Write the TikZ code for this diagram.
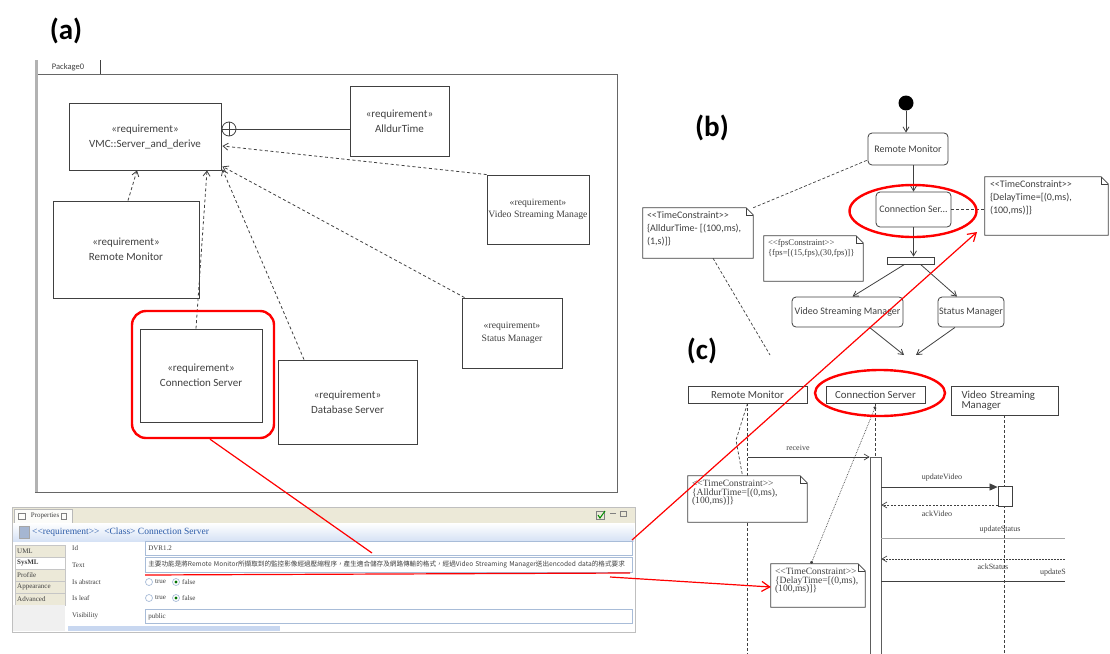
\documentclass[tikz,border=0pt]{standalone}
\usepackage{fontspec}
\setmainfont{Carlito}
\newfontfamily\tnr{Liberation Serif}
\newfontfamily\cjk{Noto Sans CJK TC}
\usetikzlibrary{arrows.meta,shapes.geometric,calc}
\definecolor{ln}{HTML}{404040}
\definecolor{tabbg}{HTML}{ECE9D8}
\definecolor{fieldln}{HTML}{A8BCD8}
\definecolor{titleblue}{HTML}{2B5BA8}
\definecolor{scrollblue}{RGB}{200,215,240}
\definecolor{titlegrad}{RGB}{214,226,245}
\definecolor{iconblue}{RGB}{165,182,210}
\newcommand\umlnote[2][7pt]{%
  \draw[ln, line width=0.7pt, fill=white] (#2.north west) -- ([xshift=-#1]#2.north east) -- ([yshift=-#1]#2.north east) -- (#2.south east) -- (#2.south west) -- cycle;
  \draw[ln, line width=0.6pt] ([xshift=-#1]#2.north east) -- ([xshift=-#1,yshift=-#1]#2.north east) -- ([yshift=-#1]#2.north east);}
\begin{document}
\begin{tikzpicture}[x=1pt,y=-1pt,
  every node/.style={inner sep=0pt},
  reqbox/.style={draw=ln, line width=0.9pt, fill=white, align=center, text=ln, font=\fontsize{11}{15}\selectfont},
  reqser/.style={reqbox, font=\tnr\fontsize{9.7}{12.5}\selectfont},
  deriv/.style={draw=ln, dash pattern=on 3pt off 2.5pt, line width=0.8pt, -{Straight Barb[length=5pt,width=7pt]}},
  redbox/.style={draw=red, line width=2.4pt, rounded corners=14pt},
  redring/.style={draw=red, ellipse, line width=2.4pt},
  redarr/.style={draw=red, line width=1.2pt},
  actbox/.style={draw=ln, line width=0.8pt, rounded corners=4pt, fill=white, font=\fontsize{10}{11}\selectfont, text=ln},
  flow/.style={draw=ln, line width=0.8pt, -{Straight Barb[length=5pt,width=6pt]}},
  notebox/.style={fill=white},
  notesans/.style={align=left, text=ln, font=\fontsize{10}{13}\selectfont},
  noteser/.style={align=left, text=ln, font=\tnr\fontsize{9.6}{8.8}\selectfont},
  head/.style={draw=ln, line width=0.7pt, fill=white, text=ln, font=\fontsize{10.8}{11}\selectfont},
  life/.style={draw=ln, dash pattern=on 3pt off 2pt, line width=0.7pt},
  msg/.style={draw=ln, line width=0.7pt},
  msglab/.style={text=ln, font=\tnr\fontsize{8}{9}\selectfont},
  field/.style={draw=fieldln, line width=0.7pt, fill=white, text=ln, align=left, inner xsep=3pt},
  plabel/.style={text=ln, font=\tnr\fontsize{7}{8}\selectfont},
  ptab/.style={draw=gray!45, fill=tabbg, minimum width=50pt, minimum height=12pt, text width=46pt, align=left, inner xsep=2pt, text=ln, font=\tnr\fontsize{7}{8}\selectfont},
  lab/.style={font=\bfseries\fontsize{29}{29}\selectfont}
]
\useasboundingbox (0,0) rectangle (1110,653);

% ---------- labels
\node[lab] (labA) at (66,31) {(a)};
\node[lab] (labB) at (712,128) {(b)};
\node[lab] (labC) at (702,351) {(c)};

% ---------- (a) package
\draw[ln!80, line width=0.8pt] (35,74) -- (617,74) -- (617,492) -- (35,492);
\draw[gray!60, line width=2.5pt] (36.5,60) -- (36.5,492);
\draw[ln, line width=0.8pt] (100,60) -- (100,74);
\node[text=ln, font=\fontsize{8.5}{9}\selectfont] (pk) at (68,67) {Package0};

\node[reqbox, minimum width=152pt, minimum height=67pt] (VMC) at (145,136.5) {«requirement»\\VMC::Server\_and\_derive};
\node[reqbox, minimum width=99pt, minimum height=70pt] (Alldur) at (399.5,121) {«requirement»\\AlldurTime};
\node[reqser, minimum width=102pt, minimum height=69pt] (VSMa) at (538,209.5) {«requirement»\\Video Streaming Manage};
\node[reqbox, minimum width=146pt, minimum height=97pt] (RMa) at (126,249.5) {«requirement»\\Remote Monitor};
\node[reqbox, minimum width=122pt, minimum height=93pt] (CSa) at (201,375.5) {«requirement»\\Connection Server};
\node[reqbox, minimum width=139pt, minimum height=84pt] (DBa) at (347.5,402) {«requirement»\\Database Server};
\node[reqser, minimum width=100pt, minimum height=70pt] (SMa) at (512,333) {«requirement»\\Status Manager};

\node[circle, draw=ln, line width=0.8pt, fill=white, minimum size=14pt] (cp) at (229,129) {};
\draw[ln, line width=0.8pt] (cp.north) -- (cp.south) (cp.west) -- (cp.east);
\draw[ln, line width=0.8pt] (cp.east) -- (cp.east -| Alldur.west);

\draw[deriv] ([xshift=2pt]RMa.north) -- ([xshift=-8pt]VMC.south);
\draw[deriv] ([xshift=-5pt]CSa.north) -- ([xshift=62pt]VMC.south);
\draw[deriv] ([xshift=-43.5pt]DBa.north) -- ([xshift=1pt,yshift=1pt]VMC.south east);
\draw[deriv] ([xshift=3pt]SMa.north west) -- ([xshift=1pt,yshift=4pt]VMC.south east);
\draw[deriv] (VSMa.north west) -- ([xshift=1pt,yshift=-9.5pt]VMC.east);

% ---------- properties panel
\fill[tabbg] (12,507) rectangle (635,523);
\draw[gray!50, line width=0.6pt] (12,507) rectangle (635,632);
\node[draw=gray!55, fill=white!85!tabbg, minimum width=58pt, minimum height=14pt, anchor=north west, text=ln, font=\tnr\fontsize{7}{8}\selectfont] (ptabh) at (14,509) {\hspace*{9pt}Properties\ \ \ \ };
\draw[gray, line width=0.5pt] (18,513) rectangle (25,519);
\draw[gray, line width=0.5pt] (61,513) rectangle (66,519);
\draw[gray, line width=0.5pt] (596,511) rectangle (604,519);
\draw[green!55!black, line width=1pt] (598,515) -- (600,518) -- (605,511);
\draw[gray, line width=0.8pt] (610,513) -- (616,513);
\draw[gray, line width=0.6pt] (620,511) rectangle (626,516);
\shade[top color=white, bottom color=titlegrad] (13,523) rectangle (634,541);
\draw[gray!70, fill=iconblue] (19,526) rectangle (29,538);
\node[anchor=west, text=titleblue, font=\tnr\fontsize{9.5}{10}\selectfont] (ptitle) at (32,532) {<\kern0pt<requirement>\kern0pt> \ <Class> Connection Server};
\fill[white] (65,542) rectangle (633,626);
\node[ptab, anchor=north west] (tUML) at (15,545) {UML};
\node[ptab, anchor=north west, fill=white, font=\tnr\bfseries\fontsize{7}{8}\selectfont] (tSys) at (15,557) {SysML};
\node[ptab, anchor=north west] (tPro) at (15,569) {Profile};
\node[ptab, anchor=north west] (tApp) at (15,581) {Appearance};
\node[ptab, anchor=north west] (tAdv) at (15,593) {Advanced};
\fill[gray!12] (13,605) rectangle (65,631);
\fill[scrollblue] (68,626) rectangle (280,631);

\node[plabel, anchor=west] (lId) at (72,548) {Id};
\node[plabel, anchor=west] (lText) at (72,565) {Text};
\node[plabel, anchor=west] (lAbs) at (72,582) {Is abstract};
\node[plabel, anchor=west] (lLeaf) at (72,598) {Is leaf};
\node[plabel, anchor=west] (lVis) at (72,616) {Visibility};

\node[field, text width=481pt, minimum height=14pt, anchor=north west, font=\tnr\fontsize{7}{8}\selectfont] (fId) at (145,541) {DVR1.2};
\node[field, text width=481pt, minimum height=15pt, anchor=north west, font=\cjk\fontsize{6.6}{7}\selectfont] (fText) at (145,557) {主要功能是將Remote Monitor所擷取到的監控影像經過壓縮程序，產生適合儲存及網路傳輸的格式，經過Video Streaming Manager送出encoded data的格式要求};
\node[field, text width=481pt, minimum height=14pt, anchor=north west, font=\tnr\fontsize{7}{8}\selectfont] (fVis) at (145,609) {public};

\node[circle, draw=fieldln, line width=0.7pt, minimum size=7pt] (ra1) at (149,582) {};
\node[plabel, anchor=west] (ra1t) at (155,582) {true};
\node[circle, draw=fieldln, line width=0.7pt, minimum size=7pt] (ra2) at (176,582) {};
\fill[green!45!black] (ra2) circle (1.6pt);
\node[plabel, anchor=west] (ra2t) at (182,582) {false};
\node[circle, draw=fieldln, line width=0.7pt, minimum size=7pt] (rb1) at (149,598) {};
\node[plabel, anchor=west] (rb1t) at (155,598) {true};
\node[circle, draw=fieldln, line width=0.7pt, minimum size=7pt] (rb2) at (176,598) {};
\fill[green!45!black] (rb2) circle (1.6pt);
\node[plabel, anchor=west] (rb2t) at (182,598) {false};

% ---------- (b) activity
\node[circle, fill=black, minimum size=15pt] (init) at (906,103) {};
\node[actbox, minimum width=80pt, minimum height=32pt] (RMb) at (908,149) {Remote Monitor};
\node[actbox, minimum width=75pt, minimum height=35pt] (CSb) at (913.5,209.5) {Connection Ser...};
\node[draw=ln, line width=0.8pt, fill=white, minimum width=47pt, minimum height=7pt] (fork) at (910.5,260.5) {};
\node[actbox, minimum width=111pt, minimum height=30pt] (VSMb) at (847.5,312) {Video Streaming Manager};
\node[actbox, minimum width=66pt, minimum height=30pt] (SMb) at (971,312) {Status Manager};

\draw[flow] (init.south) -- (init.south |- RMb.north);
\draw[flow] (CSb.north |- RMb.south) -- (CSb.north);
\draw[flow] (CSb.south) -- (CSb.south |- fork.north);
\draw[flow] ([xshift=-6pt]fork.south) -- ([xshift=5pt]VSMb.north);
\draw[flow] ([xshift=10pt]fork.south) -- ([xshift=-14pt]SMb.north);
\coordinate (j1) at (904,355);
\coordinate (j2) at (916,355);
\draw[flow] ([xshift=22pt]VSMb.south) -- (j1);
\draw[flow] ([xshift=-16pt]SMb.south) -- (j2);

\node[notebox, minimum width=123pt, minimum height=58pt] (TCb1) at (1046.5,206) {};
\umlnote{TCb1}
\node[notesans, anchor=north west] (TCb1t) at ([shift={(5pt,-4pt)}]TCb1.north west) {<\kern0pt<TimeConstraint>\kern0pt>\\\{DelayTime=[(0,ms),\\(100,ms)]\}};
\node[notebox, minimum width=110pt, minimum height=50pt] (TCb2) at (698,233) {};
\umlnote{TCb2}
\node[notesans, anchor=north west] (TCb2t) at ([shift={(4pt,-4pt)}]TCb2.north west) {<\kern0pt<TimeConstraint>\kern0pt>\\\{AlldurTime- [(100,ms),\\(1,s)]\}};
\node[notebox, minimum width=99pt, minimum height=45pt] (fps) at (813.5,258.5) {};
\umlnote{fps}
\node[noteser, anchor=north west, font=\tnr\fontsize{8.7}{10}\selectfont] (fpst) at ([shift={(4pt,-3pt)}]fps.north west) {<\kern0pt<fpsConstraint>\kern0pt>\\\{fps=[(15,fps),(30,fps)]\}};

\draw[life] (CSb.east) -- (CSb.east -| TCb1.west);
\draw[life] (TCb2.north east) -- ([yshift=-11pt]RMb.west);
\coordinate (tcb2end) at (770,355);
\draw[life] ([xshift=15pt]TCb2.south) -- (tcb2end);

% ---------- (c) sequence
\coordinate (bot) at (0,656);
\node[head, minimum width=119pt, minimum height=17pt] (RMc) at (747.5,394.5) {Remote Monitor};
\node[head, minimum width=99pt, minimum height=17pt] (CSc) at (875.5,394.5) {Connection Server};
\node[head, minimum width=107pt, minimum height=29pt, text width=86pt, align=left, font=\fontsize{10.8}{10.5}\selectfont] (VSMc) at (1004.5,400.5) {Video Streaming\\Manager};

\draw[life] (RMc.south) -- (RMc.south |- bot);
\node[draw=ln!85, line width=0.7pt, fill=white, minimum width=11pt, minimum height=200pt, anchor=north] (actCS) at (875.5,457) {};
\draw[life] (CSc.south) -- (CSc.south |- actCS.north);
\draw[life] (VSMc.south) -- (VSMc.south |- bot);
\node[draw=ln, line width=0.8pt, fill=white, minimum width=14pt, minimum height=20pt] (actV) at (1005,496) {};

\draw[msg, -{Straight Barb[length=5pt,width=6pt]}] (RMc.south |- actCS.north) -- (actCS.north west);
\node[msglab] (mRec) at (798,448) {receive};
\coordinate (uv) at (0,487);
\draw[msg, -{Triangle[length=8pt,width=7pt]}] (actCS.east |- uv) -- (actV.west |- uv);
\node[msglab] (mUV) at (942,478) {updateVideo};
\coordinate (av) at (0,505);
\draw[msg, dash pattern=on 2pt off 1.5pt, -{Straight Barb[length=5pt,width=6pt]}] (actV.west |- av) -- (actCS.east |- av);
\node[msglab] (mAV) at (937,514) {ackVideo};
\coordinate (usR) at (1065,538);
\draw[msg, draw=gray!70] (actCS.east |- usR) -- (usR);
\node[msglab] (mUS) at (1000,530) {updateStatus};
\coordinate (asR) at (1065,559);
\draw[msg, dash pattern=on 2pt off 1pt, -{Straight Barb[length=5pt,width=6pt]}] (asR) -- (actCS.east |- asR);
\node[msglab] (mAS) at (993,567) {ackStatus};
\coordinate (u3R) at (1065,581);
\draw[msg] (actCS.east |- u3R) -- (u3R);
\node[msglab, anchor=east] (mU3) at (1066,573) {updateS};

\node[notebox, minimum width=119pt, minimum height=46pt] (TCc1) at (747.5,499) {};
\umlnote{TCc1}
\node[noteser, anchor=north west] (TCc1t) at ([shift={(4pt,-4pt)}]TCc1.north west) {<\kern0pt<TimeConstraint>\kern0pt>\\\{AlldurTime=[(0,ms),\\(100,ms)]\}};
\coordinate (zz) at (736,440);
\draw[life] (RMc.south) -- (zz) -- ([xshift=-5pt]TCc1.north);

\node[notebox, minimum width=94pt, minimum height=43pt] (TCc2) at (818,585.5) {};
\umlnote{TCc2}
\node[noteser, anchor=north west] (TCc2t) at ([shift={(4pt,-4pt)}]TCc2.north west) {<\kern0pt<TimeConstraint>\kern0pt>\\\{DelayTime=[(0,ms),\\(100,ms)]\}};
\draw[ln, densely dotted, line width=0.7pt, {Circle[length=3pt]}-{Circle[length=3pt]}] ([xshift=-7pt]TCc2.north) -- ([yshift=-3pt]CSc.south);

% ---------- red highlights
\node[redbox, minimum width=142pt, minimum height=127pt] (hlA) at (203,374.5) {};
\node[redring, minimum width=127pt, minimum height=52pt] (hlB) at (913,211) {};
\node[redring, minimum width=130pt, minimum height=46pt] (hlC) at (880,393) {};
\coordinate (r1e) at (372,553);
\draw[redarr] ([xshift=7pt]hlA.south) -- (r1e);
\coordinate (r2s) at (632,540);
\coordinate (r2e) at (977,232);
\draw[redarr, -{Straight Barb[length=8pt,width=10pt]}] (r2s) -- (r2e);
\coordinate (ul1) at (145,575);
\coordinate (ul2) at (630,573);
\draw[redarr] (ul1) -- (ul2);
\coordinate (r3s) at (610,577);
\draw[redarr, -{Straight Barb[length=8pt,width=10pt]}] (r3s) -- ([yshift=-1.5pt]TCc2.west);
\end{tikzpicture}
\end{document}
